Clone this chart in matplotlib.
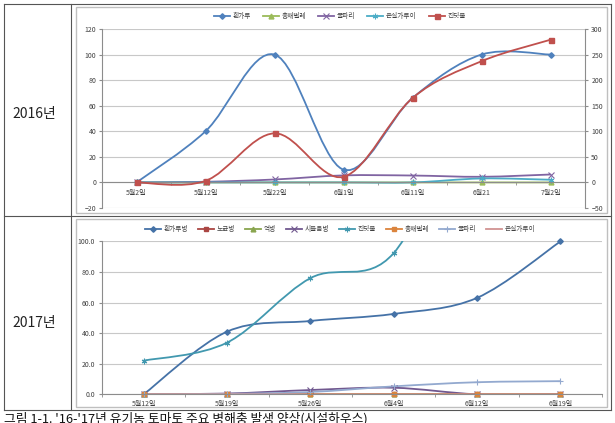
import matplotlib
matplotlib.use("Agg")
import matplotlib.pyplot as plt
from matplotlib.path import Path
from matplotlib.patches import PathPatch, Rectangle
from matplotlib.lines import Line2D
import numpy as np

plt.rcParams['font.family'] = ['Noto Sans CJK KR', 'DejaVu Sans']

# ---------------- data ----------------
cats16 = ['5월2일', '5월12일', '5월22일', '6월1일', '6월11일', '6월21', '7월2일']
powdery16 = [0, 40, 100, 10, 66, 100, 100]        # 흰가루 (left axis)
thrips16 = [0, 0, 0, 0, 0, 0, 0]                  # 총채벌레 (left axis)
miner16 = [0, 0.5, 2.3, 5.5, 5.4, 4.4, 6.2]       # 굴파리 (left axis)
whitefly16 = [0, 0, 0, 0, 0, 3.1, 2.1]            # 온실가루이 (left axis)
aphid16 = [0, 3, 96, 11, 165, 237, 279]           # 진딧물 (right axis)

cats17 = ['5월12일', '5월19일', '5월26일', '6월4일', '6월12일', '6월19일']
powdery17 = [0, 41, 48, 52.6, 63.1, 100]          # 흰가루병
downy17 = [0, 0, 0, 0, 0, 0]                      # 노균병
blight17 = [0, 0, 0, 0, 0, 0]                     # 역병
wilt17 = [0, 0.5, 2.8, 4.3, 0, 0]                 # 시들음병
aphid17 = [22, 33.8, 76, 92.4, 200, 250]          # 진딧물
thrips17 = [0, 0, 0, 0, 0, 0]                     # 총채벌레
miner17 = [0, 0.3, 1.5, 5.2, 7.9, 8.6]            # 굴파리
whitefly17 = [0, 0, 0, 0, 0, 0]                   # 온실가루이

W, H = 615, 423
fig = plt.figure(figsize=(W / 100, H / 100), dpi=100)


def fx(x):
    return x / W


def fy(y):
    return 1 - y / H


def smooth_path(xs, ys):
    n = len(xs)
    verts = [(xs[0], ys[0])]
    codes = [Path.MOVETO]
    for i in range(n - 1):
        a = i - 1 if i > 0 else 0
        d = i + 2 if i + 2 < n else n - 1
        c1 = (xs[i] + (xs[i + 1] - xs[a]) / 6, ys[i] + (ys[i + 1] - ys[a]) / 6)
        c2 = (xs[i + 1] - (xs[d] - xs[i]) / 6, ys[i + 1] - (ys[d] - ys[i]) / 6)
        verts += [c1, c2, (xs[i + 1], ys[i + 1])]
        codes += [Path.CURVE4] * 3
    return Path(verts, codes)


def draw_series(ax, ys, color, marker, ms, lw=1.3, ymax=None, mew=1.0, mfc=None):
    xs = np.arange(len(ys), dtype=float)
    ys = np.asarray(ys, dtype=float)
    ax.add_patch(PathPatch(smooth_path(xs, ys), fill=False, edgecolor=color, lw=lw,
                           capstyle='round', joinstyle='round'))
    if marker:
        m = np.ones(len(ys), bool) if ymax is None else ys <= ymax
        ax.plot(xs[m], ys[m], linestyle='none', marker=marker, ms=ms,
                color=color, mfc=mfc if mfc else color, mec=color, mew=mew, clip_on=False)
    return Line2D([], [], color=color, lw=lw, marker=marker if marker else None, ms=ms,
                  mfc=mfc if mfc else color, mec=color, mew=mew)


# ---------------- table / frames ----------------
tcol = '#555555'
for (x0, y0, x1, y1) in [(4, 4, 611, 4), (4, 410, 611, 410), (4, 4, 4, 410), (611, 4, 611, 410),
                         (71, 4, 71, 410), (4, 216, 611, 216)]:
    fig.add_artist(Line2D([fx(x0), fx(x1)], [fy(y0), fy(y1)], color=tcol, lw=0.8))
for (x0, y0, x1, y1) in [(76, 7, 607, 213), (76, 219, 607, 407)]:
    fig.add_artist(Rectangle((fx(x0), fy(y1)), fx(x1) - fx(x0), fy(y0) - fy(y1),
                             fill=False, edgecolor='#BFBFBF', lw=1.0))

fig.text(fx(34), fy(114), '2016년', ha='center', va='center', fontsize=10, color='#222222')
fig.text(fx(34), fy(323), '2017년', ha='center', va='center', fontsize=10, color='#222222')

fig.text(fx(4), fy(412), "그림 1-1. '16-'17년 유기농 토마토 주요 병해충 발생 양상(시설하우스)",
         ha='left', va='top', fontsize=9.2, color='#111111')

tick_col = '#404040'
spine_col = '#8C8C8C'
grid_col = '#C8C8C8'
fs = 5.0
lfs = 4.8

# ---------------- 2016 chart ----------------
ax = fig.add_axes([fx(102), fy(208), fx(585) - fx(102), fy(29) - fy(208)])
ax.set_xlim(-0.5, len(cats16) - 0.5)
ax.set_ylim(-20, 120)
ax.set_yticks(np.arange(-20, 121, 20))
ax.yaxis.grid(True, color=grid_col, lw=0.8)
ax.set_axisbelow(True)
for s in ['top', 'right']:
    ax.spines[s].set_visible(False)
ax.spines['left'].set_color(spine_col)
ax.spines['bottom'].set_position(('data', 0))
ax.spines['bottom'].set_color(spine_col)
ax.set_xticks(np.arange(len(cats16)))
ax.set_xticklabels(cats16)
ax.set_xticks(np.arange(-0.5, len(cats16), 1.0), minor=True)
ax.tick_params(axis='x', which='major', length=0, pad=5, labelsize=fs, labelcolor=tick_col)
ax.tick_params(axis='x', which='minor', length=2.5, color=spine_col, direction='out')
ax.tick_params(axis='y', length=2.5, color=spine_col, pad=1.5, labelsize=fs, labelcolor=tick_col)

ax2 = ax.twinx()
ax2.set_ylim(-50, 300)
ax2.set_yticks(np.arange(-50, 301, 50))
for s in ['top', 'left', 'bottom']:
    ax2.spines[s].set_visible(False)
ax2.spines['right'].set_color(spine_col)
ax2.tick_params(axis='y', length=2.5, color=spine_col, pad=2, labelsize=fs, labelcolor=tick_col)

h16 = {}
h16['흰가루'] = draw_series(ax, powdery16, '#4F81BD', 'D', 2.8)
h16['총채벌레'] = draw_series(ax, thrips16, '#9BBB59', '^', 3.5)
h16['굴파리'] = draw_series(ax, miner16, '#8064A2', 'x', 4, mew=0.8)
h16['온실가루이'] = draw_series(ax, whitefly16, '#4BACC6', (6, 2, 0), 4, mew=0.8)
h16['진딧물'] = draw_series(ax2, aphid16, '#C0504D', 's', 3.6)

order16 = ['흰가루', '총채벌레', '굴파리', '온실가루이', '진딧물']
fig.legend([h16[k] for k in order16], order16, loc='center', bbox_to_anchor=(fx(340), fy(16)),
           ncol=5, frameon=False, fontsize=lfs, handlelength=2.4, columnspacing=1.8,
           handletextpad=0.4, labelcolor=tick_col)

# ---------------- 2017 chart ----------------
bx = fig.add_axes([fx(102), fy(394.3), fx(602) - fx(102), fy(241.5) - fy(394.3)])
bx.set_xlim(-0.5, len(cats17) - 0.5)
bx.set_ylim(0, 100)
bx.set_yticks(np.arange(0, 101, 20))
bx.set_yticklabels([f'{v:.1f}' for v in np.arange(0, 101, 20)])
bx.yaxis.grid(True, color=grid_col, lw=0.8)
bx.set_axisbelow(True)
for s in ['top', 'right']:
    bx.spines[s].set_visible(False)
bx.spines['left'].set_color(spine_col)
bx.spines['bottom'].set_color(spine_col)
bx.set_xticks(np.arange(len(cats17)))
bx.set_xticklabels(cats17)
bx.set_xticks(np.arange(-0.5, len(cats17), 1.0), minor=True)
bx.tick_params(axis='x', which='major', length=0, pad=4, labelsize=fs, labelcolor=tick_col)
bx.tick_params(axis='x', which='minor', length=2.5, color=spine_col, direction='out')
bx.tick_params(axis='y', length=2.5, color=spine_col, pad=2.5, labelsize=fs, labelcolor=tick_col)

h17 = {}
h17['흰가루병'] = draw_series(bx, powdery17, '#4572A7', 'D', 2.8, ymax=100)
h17['노균병'] = draw_series(bx, downy17, '#AA4643', 's', 3.4, ymax=100)
h17['역병'] = draw_series(bx, blight17, '#89A54E', '^', 3.4, ymax=100)
h17['시들음병'] = draw_series(bx, wilt17, '#71588F', 'x', 4, ymax=100, mew=0.8)
h17['진딧물'] = draw_series(bx, aphid17, '#4198AF', (6, 2, 0), 4, ymax=100, mew=0.8)
h17['총채벌레'] = draw_series(bx, thrips17, '#DB843D', 's', 3.4, ymax=100)
h17['굴파리'] = draw_series(bx, miner17, '#93A9CF', '+', 4, ymax=100, mew=0.8)
h17['온실가루이'] = draw_series(bx, whitefly17, '#D19392', None, 0, ymax=100)

order17 = ['흰가루병', '노균병', '역병', '시들음병', '진딧물', '총채벌레', '굴파리', '온실가루이']
fig.legend([h17[k] for k in order17], order17, loc='center', bbox_to_anchor=(fx(340), fy(229)),
           ncol=8, frameon=False, fontsize=lfs, handlelength=2.4, columnspacing=1.5,
           handletextpad=0.4, labelcolor=tick_col)

fig.savefig('out.png', dpi=100)
